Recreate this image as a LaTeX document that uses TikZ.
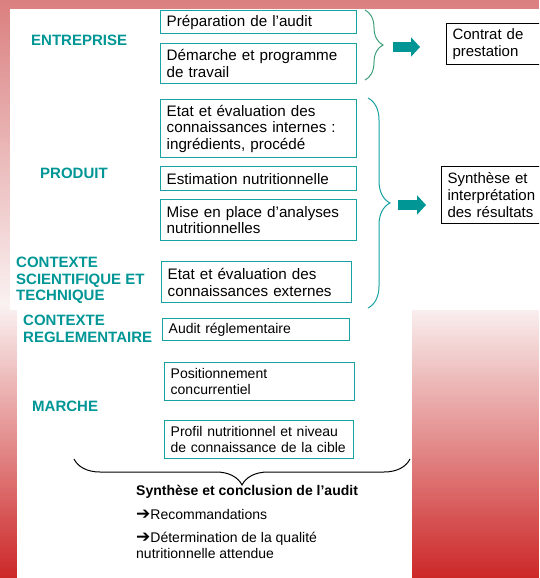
\documentclass[tikz,border=0pt]{standalone}
\usepackage{fontspec}
\setmainfont{Liberation Sans}
\newfontfamily\flechefont{DejaVu Sans}
\usetikzlibrary{arrows.meta,decorations.pathreplacing}
\definecolor{tealtxt}{RGB}{0,150,150}
\definecolor{tealbox}{RGB}{25,162,162}
\definecolor{vertaccol}{RGB}{60,160,120}
\definecolor{hautrouge}{RGB}{219,128,128}
\definecolor{milrose}{RGB}{250,242,242}
\definecolor{basrouge}{RGB}{205,40,40}
\newcommand{\fleche}{{\flechefont\fontsize{17}{17}\selectfont ➔}}

\begin{document}
\begin{tikzpicture}
		[x=1pt, y=-1pt, every node/.style={inner sep=0pt},
		 box/.style={draw=tealbox, line width=1.4pt, anchor=north west, align=left, inner xsep=6pt, font=\fontsize{15.2}{16.7}\selectfont},
		 petitbox/.style={box, font=\fontsize{14}{16.5}\selectfont},
		 cadre/.style={draw=black, line width=1.1pt, anchor=north west, align=left, inner xsep=6pt, font=\fontsize{15}{16.7}\selectfont},
		 theme/.style={anchor=west, align=left, text=tealtxt, font=\fontsize{15}{16.7}\selectfont\bfseries},
		 accolade/.style={decorate, decoration={brace, amplitude=#1}, line width=1pt},
		 grossefleche/.style={line width=10pt, draw=tealtxt, -{Triangle[length=9pt, width=19pt]}}]
		% fond
		\clip (0,0) rectangle (539,578);
		\foreach \i in {0,2,...,576}{
			\pgfmathtruncatemacro{\p}{\i<305 ? \i/305*100 : (578-\i)/273*100}
			\ifnum\i<305 \fill[milrose!\p!hautrouge] (0,\i) rectangle (539,\i+2.6);
			\else \fill[milrose!\p!basrouge] (0,\i) rectangle (539,\i+2.6); \fi
		}
		\fill[white] (10,9) rectangle (539,310);
		\fill[white] (17,310) rectangle (412,578);
		
		\node[theme] (entreprise) at (31,40) {ENTREPRISE};
		\node[theme] (produit) at (40,173) {PRODUIT};
		\node[theme] (scient) at (16,280.5) {CONTEXTE\\SCIENTIFIQUE ET\\TECHNIQUE};
		\node[theme] (regl) at (23,328.5) {CONTEXTE\\REGLEMENTAIRE};
		\node[theme] (marche) at (32,406) {MARCHE};
		
		\node[box, text width=184pt, minimum height=23pt] (prep) at (160,10) {Préparation de l’audit};
		\node[box, text width=184pt, minimum height=40pt] (demarche) at (160,43) {Démarche et programme\\de travail};
		\node[box, text width=184pt, minimum height=58pt] (internes) at (160,99) {Etat et évaluation des\\connaissances internes :\\ingrédients, procédé};
		\node[box, text width=184pt, minimum height=24pt] (estim) at (160,166) {Estimation nutritionnelle};
		\node[box, text width=184pt, minimum height=41pt] (analyses) at (160,199) {Mise en place d’analyses\\nutritionnelles};
		\node[box, text width=178pt, minimum height=41pt] (externes) at (161,261) {Etat et évaluation des\\connaissances externes};
		\node[petitbox, text width=175pt, minimum height=22pt] (audit) at (162,318) {Audit réglementaire};
		\node[petitbox, text width=178pt, minimum height=38pt] (position) at (164,362) {Positionnement\\concurrentiel};
		\node[petitbox, text width=177pt, minimum height=38pt] (cible) at (164,420) {Profil nutritionnel et niveau\\de connaissance de la cible};
		
		\node[cadre, text width=110pt, minimum height=41pt] (contrat) at (446,23) {Contrat de\\prestation};
		\node[cadre, text width=110pt, minimum height=57pt] (synth) at (441,166) {Synthèse et\\interprétation\\des résultats};
		
		\draw[accolade=18pt, vertaccol] (365,10) -- (365,80);
		\draw[accolade=22pt, tealbox] (368,98) -- (368,308);
		\draw[accolade=26pt, black] (410,459) -- (74,459);
		
		\coordinate (depart1) at (393,47);
		\coordinate (arrivee1) at (420,47);
		\coordinate (depart2) at (398,205);
		\coordinate (arrivee2) at (426,205);
		\draw[grossefleche] (depart1) -- (arrivee1);
		\draw[grossefleche] (depart2) -- (arrivee2);
		
		\node[anchor=west, font=\fontsize{14}{16.7}\selectfont\bfseries] (conclusion) at (136,492) {Synthèse et conclusion de l’audit};
		\node[anchor=west, font=\fontsize{14}{16.7}\selectfont] (reco) at (136,514) {\fleche Recommandations};
		\node[anchor=west, align=left, font=\fontsize{14}{16}\selectfont] (qualite) at (136,545) {\fleche Détermination de la qualité\\nutritionnelle attendue};
		\end{tikzpicture}
\end{document}
